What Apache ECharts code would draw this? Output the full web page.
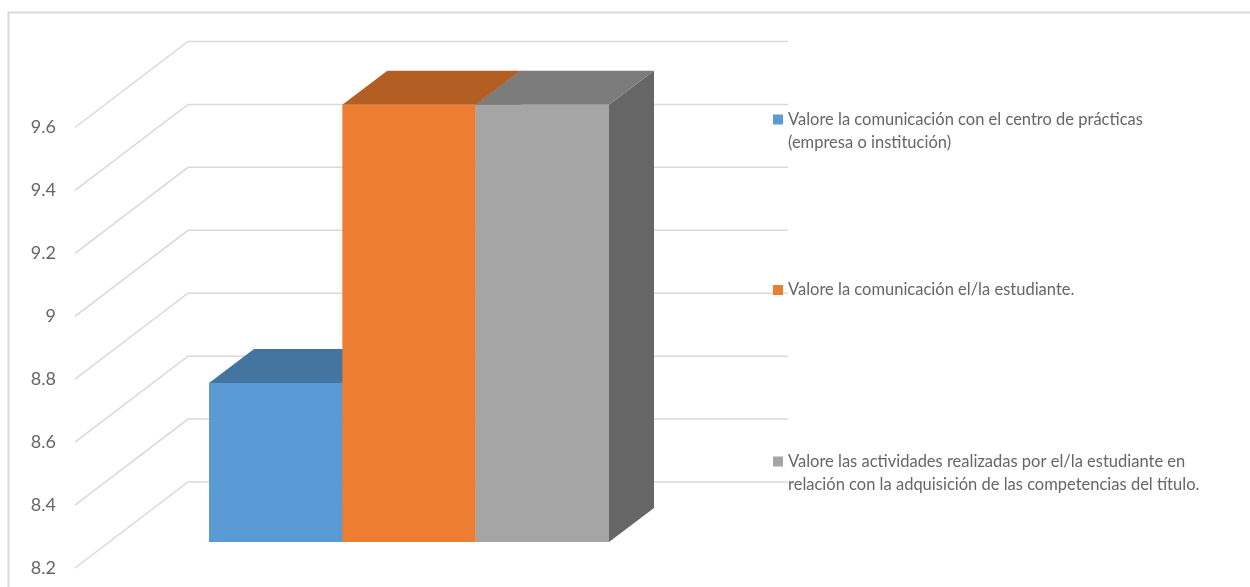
<!DOCTYPE html>
<html>
<head>
<meta charset="utf-8">
<style>html,body{margin:0;padding:0;background:#fff}#c{width:1250px;height:587px}</style>
<script src="https://cdn.jsdelivr.net/npm/echarts@6/dist/echarts.min.js"></script>
</head>
<body>
<div id="c"></div>
<script>
const categories = ['Valoración'];
const seriesNames = [
  'Valore la comunicación con el centro de prácticas\n(empresa o institución)',
  'Valore la comunicación el/la estudiante.',
  'Valore las actividades realizadas por el/la estudiante en\nrelación con la adquisición de las competencias del título.'
];
const seriesValues = [8.705, 9.59, 9.59];
const tickValues = [8.2, 8.4, 8.6, 8.8, 9, 9.2, 9.4, 9.6];
const frontColors = ['#5b9bd5', '#ed7d31', '#a5a5a5'];
const topColors = ['#4475a1', '#b35e23', '#7c7c7c'];
const sideColors = ['#3d6890', '#9e5320', '#666666'];

const WALL_DX = 113, WALL_DY = 86;   // depth of the floor/wall projection
const BAR_SHIFT_X = 34, BAR_SHIFT_Y = 26; // bars sit part way into the depth
const BAR_DX = 45, BAR_DY = 34;      // depth of the bars
const GRID_COLOR = '#d9d9d9';
const TEXT_COLOR = '#666666';
const FONT = 'Lato, "Open Sans", sans-serif';

function renderGridLine(params, api) {
  const cs = params.coordSys;
  const y = api.coord([0, api.value(0)])[1];
  return {
    type: 'polyline',
    shape: { points: [[cs.x, y], [cs.x + WALL_DX, y - WALL_DY], [cs.x + cs.width + WALL_DX, y - WALL_DY]] },
    style: { stroke: GRID_COLOR, lineWidth: 1.5, fill: null },
    silent: true
  };
}

function makeBarRenderer(idx) {
  return function (params, api) {
    const band = api.size([1, 0])[0];
    const barW = band / 1.5 / seriesNames.length;
    const cx = api.coord([api.value(0), api.value(1)])[0];
    const left = cx - barW * seriesNames.length / 2 + barW * idx + BAR_SHIFT_X;
    const right = left + barW;
    const top = api.coord([api.value(0), api.value(1)])[1] - BAR_SHIFT_Y;
    const bottom = api.coord([api.value(0), tickValues[0]])[1] - BAR_SHIFT_Y;
    return {
      type: 'group',
      children: [
        { type: 'polygon', shape: { points: [[right, top], [right + BAR_DX, top - BAR_DY], [right + BAR_DX, bottom - BAR_DY], [right, bottom]] },
          style: { fill: sideColors[idx] } },
        { type: 'polygon', shape: { points: [[left, top], [left + BAR_DX, top - BAR_DY], [right + BAR_DX, top - BAR_DY], [right, top]] },
          style: { fill: topColors[idx] } },
        { type: 'rect', shape: { x: left, y: top, width: barW, height: bottom - top },
          style: { fill: frontColors[idx] } }
      ]
    };
  };
}

const twoLineIcon = 'path://M0 0h10v10H0zM0 33h10';
const legendTops = [108, 278.5, 450];
const legends = seriesNames.map((name, i) => {
  const twoLines = name.indexOf('\n') >= 0;
  return {
    left: 773,
    top: legendTops[i],
    padding: 0,
    orient: 'vertical',
    selectedMode: false,
    data: [{ name: name, icon: twoLines ? twoLineIcon : 'rect' }],
    itemWidth: 10,
    itemHeight: twoLines ? 33 : 10,
    textStyle: { color: TEXT_COLOR, fontFamily: FONT, fontSize: 16.5, lineHeight: 23 }
  };
});

const chart = echarts.init(document.getElementById('c'), null, { renderer: 'canvas' });
chart.setOption({
  animation: false,
  backgroundColor: '#ffffff',
  tooltip: { show: false },
  graphic: [{
    type: 'rect', left: 6, top: 10, silent: true, z: -1,
    shape: { width: 1300, height: 640 },
    style: { fill: 'none', stroke: GRID_COLOR, lineWidth: 2 }
  }],
  legend: legends,
  grid: { left: 75, width: 600, top: 127.5, height: 440.5, containLabel: false },
  xAxis: { type: 'category', data: categories, show: false },
  yAxis: {
    type: 'value', min: 8.2, max: 9.6, interval: 0.2,
    axisLine: { show: false }, axisTick: { show: false }, splitLine: { show: false },
    axisLabel: { color: TEXT_COLOR, fontFamily: FONT, fontSize: 18, margin: 19 }
  },
  series: [
    { type: 'custom', name: 'grid', z: 1, silent: true, renderItem: renderGridLine,
      encode: { y: 0 }, data: tickValues.map(v => [v]), clip: false }
  ].concat(seriesNames.map((name, i) => ({
    type: 'custom', name: name, z: 2 + i, renderItem: makeBarRenderer(i),
    itemStyle: { color: frontColors[i] },
    encode: { x: 0, y: 1 },
    data: [[0, seriesValues[i]]], clip: false
  })))
});
</script>
</body>
</html>
